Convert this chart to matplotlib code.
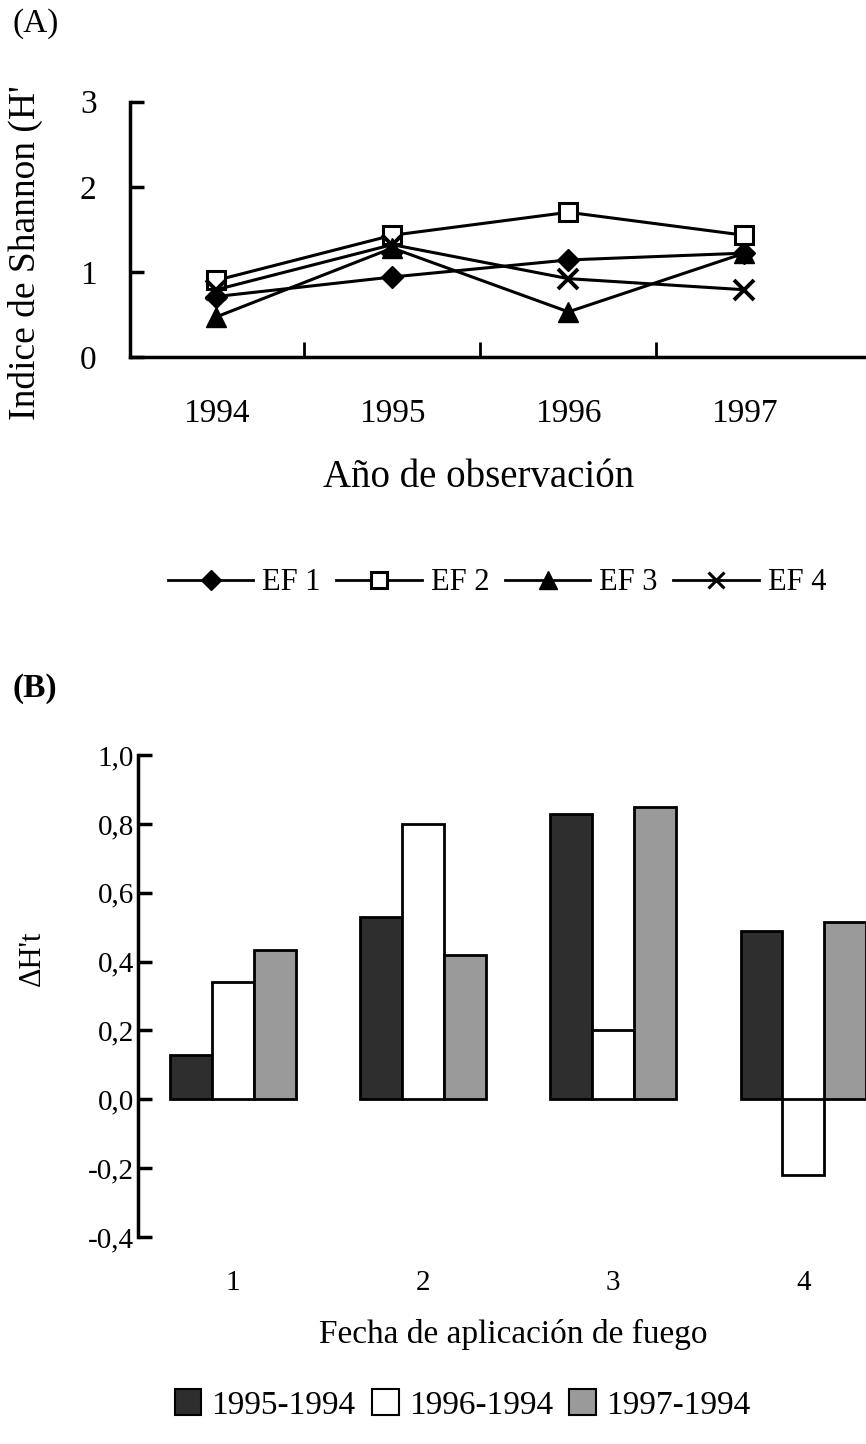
import numpy as np
import matplotlib
matplotlib.use('Agg')
import matplotlib.pyplot as plt
from matplotlib.patches import Patch
from matplotlib.lines import Line2D

plt.rcParams['font.family'] = ['Liberation Serif', 'DejaVu Serif']

# ------------------ data ------------------
years = ['1994', '1995', '1996', '1997']
ef1 = [0.71, 0.94, 1.14, 1.22]
ef2 = [0.90, 1.43, 1.70, 1.43]
ef3 = [0.47, 1.28, 0.53, 1.22]
ef4 = [0.79, 1.32, 0.92, 0.79]

fechas = ['1', '2', '3', '4']
d95 = [0.13, 0.53, 0.83, 0.49]
d96 = [0.34, 0.80, 0.20, -0.22]
d97 = [0.435, 0.42, 0.85, 0.515]

fig = plt.figure(figsize=(8.66, 14.44), dpi=100)

# ------------------ (A) Shannon index ------------------
ax1 = fig.add_axes([0.150, 0.7528, 0.850, 0.1768])
x = np.arange(len(years))
ax1.plot(x, ef1, color='black', lw=2.2, marker='D', ms=11, mfc='black', mec='black')
ax1.plot(x, ef2, color='black', lw=2.2, marker='s', ms=13, mfc='white', mec='black', mew=2.2)
ax1.plot(x, ef3, color='black', lw=2.2, marker='^', ms=15, mfc='black', mec='black')
ax1.plot(x, ef4, color='black', lw=2.2, marker='x', ms=15, mew=2.8)
ax1.set_xlim(-0.49, 3.69)
ax1.set_ylim(0, 3)
ax1.set_yticks([0, 1, 2, 3])
ax1.set_xticks(x)
ax1.set_xticklabels(years)
ax1.set_xticks([0.5, 1.5, 2.5], minor=True)
ax1.tick_params(axis='x', which='major', length=0, pad=30, labelsize=24)
ax1.tick_params(axis='x', which='minor', direction='in', length=11, width=2)
ax1.tick_params(axis='y', direction='in', length=10, width=2.5, pad=24, labelsize=24)
for s in ['top', 'right']:
    ax1.spines[s].set_visible(False)
for s in ['left', 'bottom']:
    ax1.spines[s].set_linewidth(2.5)
ax1.set_xlabel('Año de observación', fontsize=28)
ax1.xaxis.set_label_coords(0.474, -0.40)
fig.text(25 / 866, 1 - 253 / 1444, "Indice de Shannon (H'", rotation=90,
         ha='center', va='center', fontsize=27)
fig.text(12 / 866, 1 - 24 / 1444, '(A)', fontsize=24, ha='left', va='center')

handles = [
    Line2D([], [], color='black', lw=2, marker='D', ms=10),
    Line2D([], [], color='black', lw=2, marker='s', ms=11, mfc='white', mew=2.2),
    Line2D([], [], color='black', lw=2, marker='^', ms=13),
    Line2D([], [], color='black', lw=2, marker='x', ms=12, mew=2.2),
]
fig.legend(handles, ['EF 1', 'EF 2', 'EF 3', 'EF 4'], loc='center',
           bbox_to_anchor=(0.574, 1 - 583 / 1444), ncol=4, frameon=False,
           fontsize=22, handlelength=2.8, handletextpad=0.3, columnspacing=0.5)

# ------------------ (B) delta H't ------------------
ax2 = fig.add_axes([0.1594, 0.1434, 0.8406, 0.3337])
xb = np.arange(1, len(fechas) + 1)
w = 0.22
ax2.bar(xb - w, d95, w, color='#2e2e2e', edgecolor='black', lw=2)
ax2.bar(xb, d96, w, color='white', edgecolor='black', lw=2)
ax2.bar(xb + w, d97, w, color='#9a9a9a', edgecolor='black', lw=2)
ax2.set_xlim(0.5, 4.33)
ax2.set_ylim(-0.4, 1.0)
ax2.set_yticks(np.arange(-0.4, 1.01, 0.2))
ax2.set_yticklabels(['-0,4', '-0,2', '0,0', '0,2', '0,4', '0,6', '0,8', '1,0'])
ax2.set_xticks(xb)
ax2.set_xticklabels(fechas)
ax2.tick_params(axis='x', length=0, pad=24, labelsize=21)
ax2.tick_params(axis='y', direction='in', length=10, width=2.5, pad=3, labelsize=21)
for s in ['top', 'right', 'bottom']:
    ax2.spines[s].set_visible(False)
ax2.spines['left'].set_linewidth(2.5)
ax2.set_xlabel('Fecha de aplicación de fuego', fontsize=24)
ax2.xaxis.set_label_coords(0.516, -0.17)
fig.text(32 / 866, 1 - 958 / 1444, "ΔH't", rotation=90, ha='center', va='center',
         fontsize=22)
fig.text(12 / 866, 1 - 688 / 1444, '(B)', fontsize=24, fontweight='bold',
         ha='left', va='center')

bh = [Patch(facecolor='#2e2e2e', edgecolor='black', lw=1.5),
      Patch(facecolor='white', edgecolor='black', lw=1.5),
      Patch(facecolor='#9a9a9a', edgecolor='black', lw=1.5)]
fig.legend(bh, ['1995-1994', '1996-1994', '1997-1994'], loc='center',
           bbox_to_anchor=(0.534, 1 - 1405 / 1444), ncol=3, frameon=False,
           fontsize=24, handlelength=0.8, handleheight=0.8, handletextpad=0.3,
           columnspacing=0.5)

plt.savefig('out.png', dpi=100)
